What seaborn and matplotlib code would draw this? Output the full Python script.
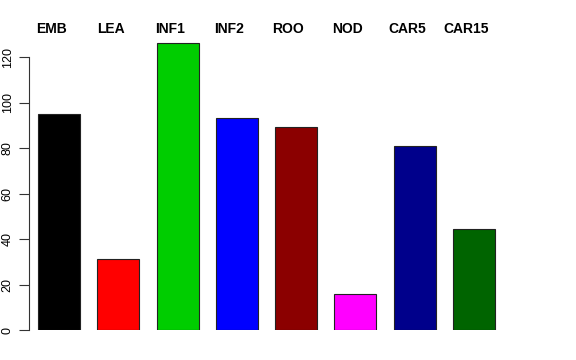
import matplotlib
matplotlib.use("Agg")
import matplotlib.pyplot as plt
import seaborn as sns
import pandas as pd

# values
tissues = ["EMB", "LEA", "INF1", "INF2", "ROO", "NOD", "CAR5", "CAR15"]
counts = [95.0, 31.2, 126.4, 93.4, 89.4, 15.8, 81.0, 44.4]
bar_colors = ["#000000", "#FF0000", "#00CD00", "#0000FF", "#8B0000", "#FF00FF", "#00008B", "#006400"]

df = pd.DataFrame({"tissue": tissues, "count": counts})

sns.set_style("white")
plt.rcParams["font.family"] = ["Liberation Sans", "DejaVu Sans"]
plt.rcParams["text.color"] = "black"
plt.rcParams["ytick.labelcolor"] = "black"

fig = plt.figure(figsize=(5.76, 3.6), dpi=100)
ax = fig.add_axes([29 / 576, 30 / 360, (545 - 29) / 576, (330 - 34.5) / 360])

sns.barplot(data=df, x="tissue", y="count", hue="tissue", palette=bar_colors,
            saturation=1, width=0.71, edgecolor="#222222", linewidth=0.8,
            legend=False, ax=ax)

ax.set_xlim(-0.507, 8.2)
ax.set_ylim(0, 130)
ax.set_xlabel("")
ax.set_ylabel("")
ax.set_xticks([])

# labels above each bar
for i, name in enumerate(tissues):
    ax.text(i - 0.13, 1.0 + 5.5 / 295.5, name, transform=ax.get_xaxis_transform(),
            ha="center", va="center", fontsize=10, fontweight="bold", color="black")

ax.set_yticks([0, 20, 40, 60, 80, 100, 120])
ax.tick_params(axis="y", left=True, length=7, width=0.8, color="#333333",
               labelsize=9, pad=4, labelrotation=90, labelcolor="black")
for lab in ax.get_yticklabels():
    lab.set_va("center")

for s in ["top", "right", "bottom"]:
    ax.spines[s].set_visible(False)
ax.spines["left"].set_bounds(0, 120)
ax.spines["left"].set_color("#333333")
ax.spines["left"].set_linewidth(0.8)

fig.savefig("out.png", dpi=100)
